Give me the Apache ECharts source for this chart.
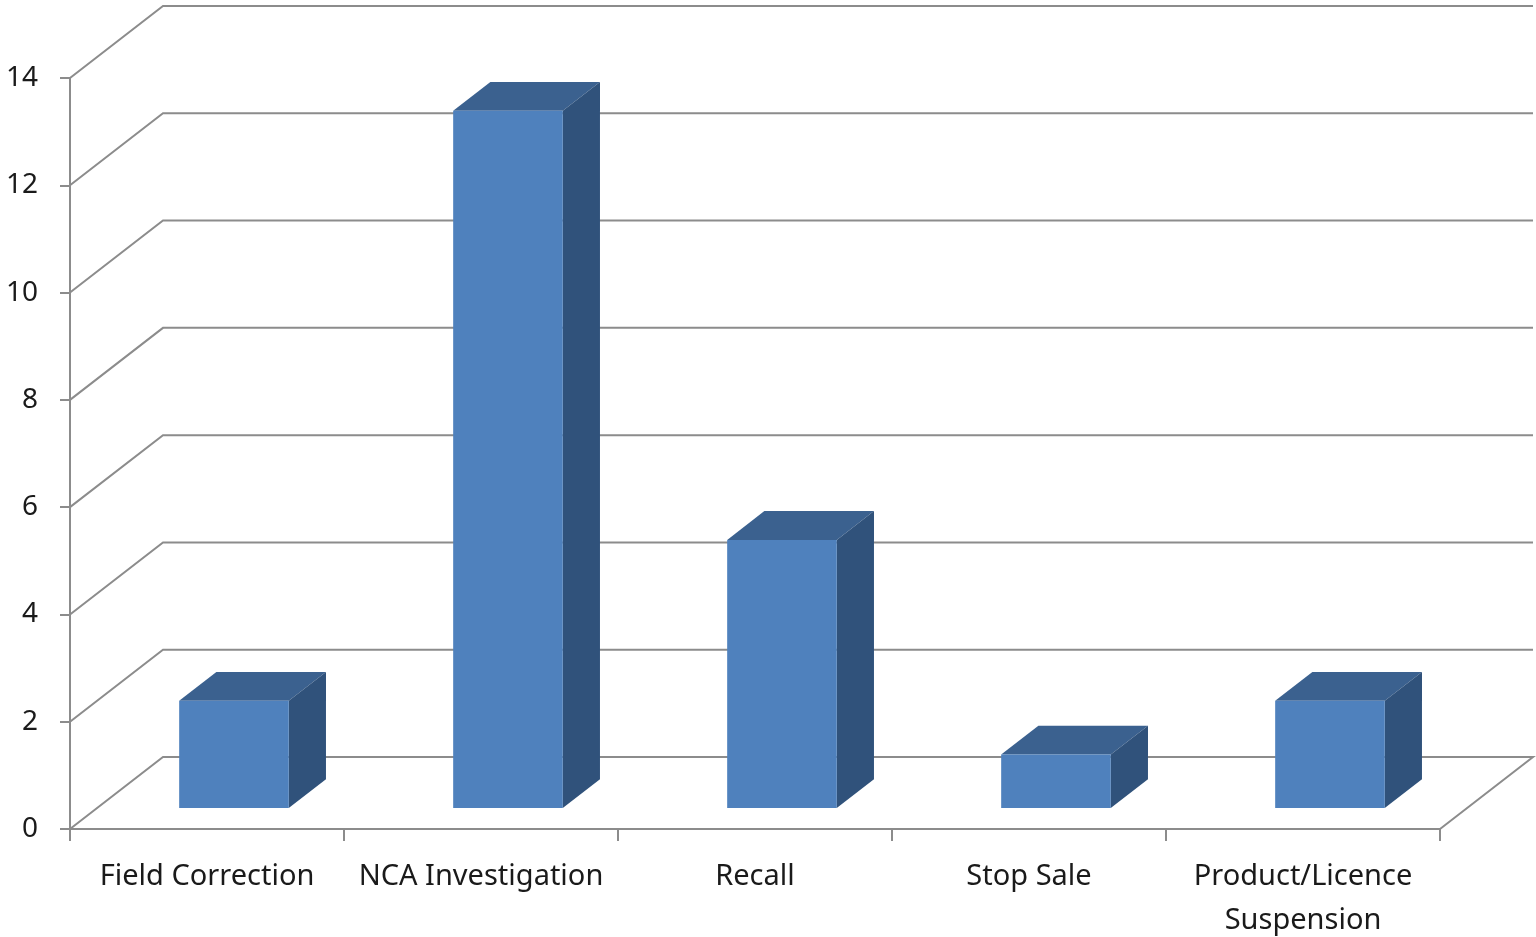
<!DOCTYPE html>
<html>
<head>
<meta charset="utf-8">
<script src="https://cdn.jsdelivr.net/npm/echarts@6/dist/echarts.min.js"></script>
<style>
html,body{margin:0;padding:0;background:#fff;overflow:hidden;}
#chart{width:1536px;height:937px;}
</style>
</head>
<body>
<div id="chart"></div>
<script>
const categories = ['Field Correction', 'NCA Investigation', 'Recall', 'Stop Sale', 'Product/Licence\nSuspension'];
const values = [2, 13, 5, 1, 2];
const yTicks = [0, 2, 4, 6, 8, 10, 12, 14];

const DX = 93, DY = -72;          // perspective depth offset (px)
const F0 = 0.29, F1 = 0.69;       // bar depth range (fraction of depth)
const GRID_COLOR = '#8c8c8c';

const chart = echarts.init(document.getElementById('chart'));

function wallsRender(params, api) {
  const bw = api.size([1, 0])[0];
  const children = [];
  yTicks.forEach(function (v) {
    const c = api.coord([0, v]);
    const xl = c[0] - bw / 2;
    const xr = xl + bw * categories.length;
    const y = c[1];
    let pts;
    if (v === 0) {
      pts = [[xl, y], [xl + DX, y + DY], [xr + DX, y + DY], [xr, y]];
    } else {
      pts = [[xl, y], [xl + DX, y + DY], [xr + DX, y + DY]];
    }
    children.push({
      type: 'polyline',
      shape: { points: pts },
      style: { stroke: GRID_COLOR, lineWidth: 2, fill: null }
    });
  });
  return { type: 'group', children: children };
}

function barRender(params, api) {
  const idx = api.value(0);
  const val = api.value(1);
  const top = api.coord([idx, val]);
  const base = api.coord([idx, 0]);
  const bw = api.size([1, 0])[0] * 0.4;
  const x0 = top[0] - bw / 2 + DX * F0;
  const x1 = x0 + bw;
  const yT = top[1] + DY * F0;
  const yB = base[1] + DY * F0;
  const ddx = DX * (F1 - F0), ddy = DY * (F1 - F0);
  return {
    type: 'group',
    children: [
      { type: 'polygon', shape: { points: [[x0, yT], [x1, yT], [x1 + ddx, yT + ddy], [x0 + ddx, yT + ddy]] },
        style: { fill: '#3b618f' } },
      { type: 'polygon', shape: { points: [[x1, yT], [x1 + ddx, yT + ddy], [x1 + ddx, yB + ddy], [x1, yB]] },
        style: { fill: '#30527b' } },
      { type: 'rect', shape: { x: x0, y: yT, width: bw, height: yB - yT },
        style: { fill: '#4f81bd' } }
    ]
  };
}

chart.setOption({
  animation: false,
  grid: { left: 70, top: 78, width: 1370, height: 751, containLabel: false, outerBoundsMode: 'none' },
  xAxis: {
    type: 'category',
    data: categories,
    boundaryGap: true,
    axisLine: { lineStyle: { color: GRID_COLOR, width: 2 } },
    axisTick: { show: true, length: 12, alignWithLabel: false, lineStyle: { color: GRID_COLOR, width: 2 } },
    axisLabel: {
      interval: 0, margin: 26, color: '#1a1a1a',
      fontFamily: 'Noto Sans', fontSize: 29, lineHeight: 44
    },
    splitLine: { show: false }
  },
  yAxis: {
    type: 'value',
    min: 0, max: 14, interval: 2,
    axisLine: { show: true, lineStyle: { color: GRID_COLOR, width: 2 } },
    axisTick: { show: true, length: 10, lineStyle: { color: GRID_COLOR, width: 2 } },
    axisLabel: { margin: 32, color: '#1a1a1a', fontFamily: 'Noto Sans', fontSize: 28 },
    splitLine: { show: false }
  },
  series: [
    {
      type: 'custom',
      renderItem: wallsRender,
      data: [[0, 0]],
      clip: false,
      silent: true,
      z: 1
    },
    {
      type: 'custom',
      renderItem: barRender,
      data: values.map(function (v, i) { return [i, v]; }),
      encode: { x: 0, y: 1 },
      clip: false,
      z: 2
    }
  ]
});
</script>
</body>
</html>
